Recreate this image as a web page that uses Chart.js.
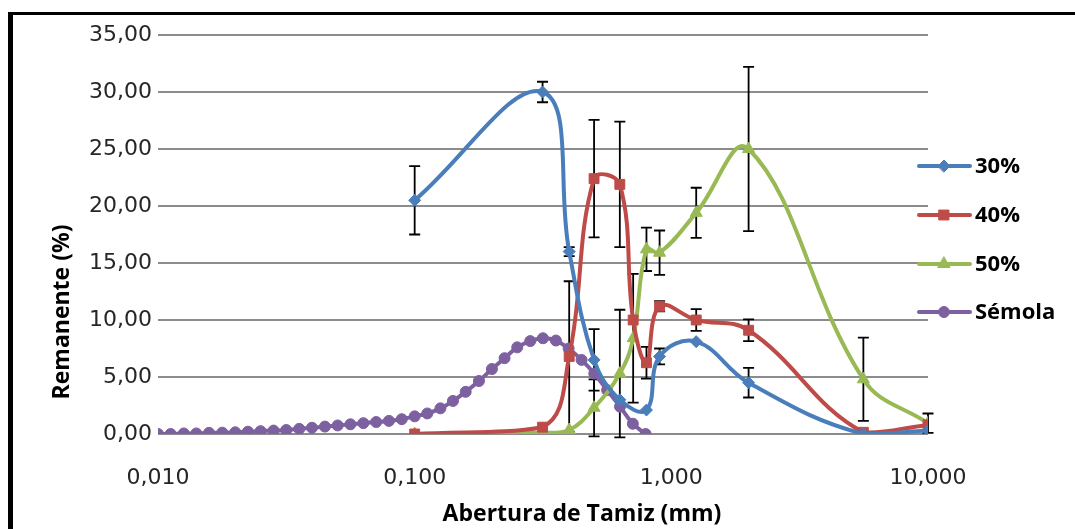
<!DOCTYPE html>
<html>
<head>
<meta charset="utf-8">
<script src="https://cdn.jsdelivr.net/npm/chart.js"></script>
<style>
    body { margin: 0; background: #fff; }
    #wrap { position: relative; width: 1075px; height: 529px; overflow: hidden; }
    #frame { position: absolute; left: 8px; top: 12px; width: 1200px; height: 700px;
             border-left: 5px solid #000; border-top: 3px solid #000; }
    canvas { position: absolute; left: 0; top: 0; }
</style>
</head>
<body>
<div id="wrap">
    <div id="frame"></div>
    <canvas id="myChart" width="1075" height="529"></canvas>
</div>
<script>
// Abertura de tamiz (mm) for the 30/40/50% series
const sieveSizes = [0.1, 0.315, 0.4, 0.5, 0.63, 0.71, 0.8, 0.9, 1.25, 2, 5.6, 10];

const values30 = [20.5, 30.0, 16.0, 6.5, 3.0, null, 2.1, 6.8, 8.1, 4.5, 0.0, 0.3];
const errors30 = [3.0, 0.9, 0.4, 2.7, 0, 0, 0, 0.7, 0, 1.3, 0, 0];

const values40 = [0.0, 0.6, 6.8, 22.4, 21.9, 10.0, 6.25, 11.2, 10.0, 9.1, 0.15, 0.8];
const errors40 = [0, 0, 6.6, 5.15, 5.5, 0, 1.4, 0.45, 0.95, 0.95, 0, 0];

const values50 = [0.0, 0.1, 0.35, 2.3, 5.3, 8.4, 16.2, 15.9, 19.4, 25.0, 4.8, 0.95];
const errors50 = [0, 0, 0, 2.5, 5.6, 5.65, 1.9, 1.95, 2.2, 7.2, 3.65, 0.85];

// Sémola (particle size distribution)
const semolaSizes = [0.010, 0.0112, 0.0126, 0.0141, 0.0158, 0.0178, 0.020, 0.0224, 0.0251, 0.0282,
    0.0316, 0.0355, 0.0398, 0.0447, 0.0501, 0.0562, 0.0631, 0.0708, 0.0794, 0.0891,
    0.100, 0.112, 0.126, 0.141, 0.158, 0.178, 0.200, 0.224, 0.251, 0.282,
    0.316, 0.355, 0.398, 0.447, 0.501, 0.562, 0.631, 0.708, 0.794];
const semolaValues = [0.0, 0.0, 0.05, 0.05, 0.1, 0.12, 0.15, 0.2, 0.25, 0.3,
    0.35, 0.45, 0.55, 0.65, 0.75, 0.85, 0.95, 1.05, 1.15, 1.3,
    1.55, 1.8, 2.25, 2.9, 3.7, 4.65, 5.7, 6.65, 7.6, 8.15,
    8.4, 8.2, 7.5, 6.5, 5.3, 3.85, 2.4, 0.9, 0.0];

const xTickValues = [0.01, 0.1, 1, 10];
const seriesLabels = ['30%', '40%', '50%', 'Sémola'];

const tickFont = { family: 'DejaVu Sans', size: 22 };
const legendFont = 'bold 22px "Open Sans"';
const titleFont = 'bold 23px "Open Sans"';

function toPoints(xs, ys) {
    return xs.map((x, i) => ({ x: x, y: ys[i] })).filter(p => p.y !== null);
}
function toErrorList(xs, ys, errs) {
    return xs.map((x, i) => ({ x: x, y: ys[i], e: errs[i] }));
}

const datasets = [
    { label: seriesLabels[0], data: toPoints(sieveSizes, values30), errs: toErrorList(sieveSizes, values30, errors30),
      borderColor: '#4A7EBB', backgroundColor: '#4A7EBB', pointStyle: 'rectRot', pointRadius: 6 },
    { label: seriesLabels[1], data: toPoints(sieveSizes, values40), errs: toErrorList(sieveSizes, values40, errors40),
      borderColor: '#BE4B48', backgroundColor: '#BE4B48', pointStyle: 'rect', pointRadius: 7 },
    { label: seriesLabels[2], data: toPoints(sieveSizes, values50), errs: toErrorList(sieveSizes, values50, errors50),
      borderColor: '#98B954', backgroundColor: '#98B954', pointStyle: 'triangle', pointRadius: 7 },
    { label: seriesLabels[3], data: toPoints(semolaSizes, semolaValues), errs: [],
      borderColor: '#7D60A0', backgroundColor: '#7D60A0', pointStyle: 'circle', pointRadius: 5.5 }
];
datasets.forEach(d => { d.borderWidth = 4; d.tension = 0.4; d.pointBorderWidth = 1; d.fill = false; });

// Error bars, drawn under the lines
const errorBars = {
    id: 'errorBars',
    beforeDatasetsDraw(chart) {
        const { ctx, scales: { x, y } } = chart;
        ctx.save();
        ctx.strokeStyle = '#000';
        ctx.lineWidth = 1.8;
        chart.data.datasets.forEach(ds => {
            ds.errs.forEach(p => {
                if (p.y === null || !p.e) return;
                const px = x.getPixelForValue(p.x);
                const top = y.getPixelForValue(p.y + p.e);
                const bot = y.getPixelForValue(p.y - p.e);
                ctx.beginPath();
                ctx.moveTo(px, top); ctx.lineTo(px, bot);
                ctx.moveTo(px - 5.5, top); ctx.lineTo(px + 5.5, top);
                ctx.moveTo(px - 5.5, bot); ctx.lineTo(px + 5.5, bot);
                ctx.stroke();
            });
        });
        ctx.restore();
    }
};

// Legend and axis titles
const extras = {
    id: 'extras',
    afterDraw(chart) {
        const ctx = chart.ctx;
        ctx.save();
        const legendY = [166, 215, 264, 312];
        chart.data.datasets.forEach((ds, i) => {
            const yy = legendY[i];
            ctx.strokeStyle = ds.borderColor;
            ctx.fillStyle = ds.backgroundColor;
            ctx.lineWidth = 4;
            ctx.lineCap = 'round';
            ctx.beginPath();
            ctx.moveTo(919, yy); ctx.lineTo(970, yy);
            ctx.stroke();
            ctx.lineWidth = 1;
            Chart.helpers.drawPoint(ctx, { pointStyle: ds.pointStyle, radius: ds.pointRadius, rotation: 0, borderWidth: 1 }, 944, yy);
            ctx.fillStyle = '#000';
            ctx.font = legendFont;
            ctx.textAlign = 'left';
            ctx.textBaseline = 'middle';
            ctx.fillText(ds.label, 975, yy + 1);
        });

        ctx.fillStyle = '#000';
        ctx.font = titleFont;
        ctx.textAlign = 'center';
        ctx.textBaseline = 'middle';
        ctx.fillText('Abertura de Tamiz (mm)', 582, 514);
        ctx.translate(62, 312);
        ctx.rotate(-Math.PI / 2);
        ctx.fillText('Remanente (%)', 0, 0);
        ctx.restore();
    }
};

const ctx = document.getElementById('myChart');
new Chart(ctx, {
    type: 'line',
    data: { datasets: datasets },
    options: {
        responsive: false,
        animation: false,
        layout: { padding: { top: 35, right: 147, left: 0, bottom: 0 } },
        plugins: { legend: { display: false }, tooltip: { enabled: false } },
        scales: {
            x: {
                type: 'logarithmic',
                min: 0.01,
                max: 10,
                afterFit: s => { s.height = 95; },
                afterBuildTicks: s => { s.ticks = xTickValues.map(v => ({ value: v })); },
                grid: { display: false },
                border: { display: false },
                ticks: {
                    autoSkip: false,
                    maxRotation: 0,
                    padding: 23,
                    color: '#262626',
                    font: tickFont,
                    callback: v => v.toFixed(3).replace('.', ',')
                }
            },
            y: {
                min: 0,
                max: 35,
                afterFit: s => { s.width = 158; },
                grid: { color: '#8c8c8c', lineWidth: 2, drawTicks: false },
                border: { display: false },
                ticks: {
                    stepSize: 5,
                    padding: 6,
                    color: '#262626',
                    font: tickFont,
                    callback: v => v.toFixed(2).replace('.', ',')
                }
            }
        }
    },
    plugins: [errorBars, extras]
});
</script>
</body>
</html>
